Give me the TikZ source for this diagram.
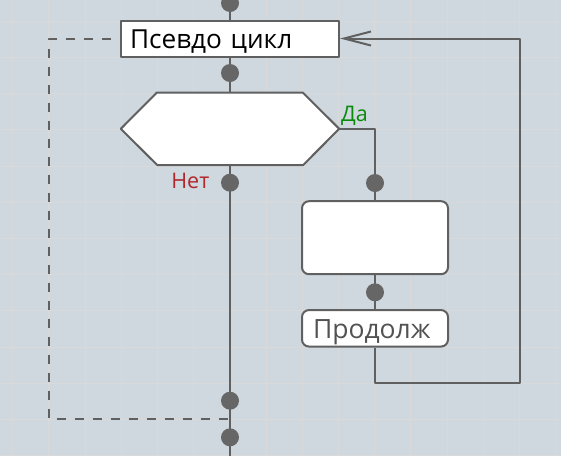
\documentclass[tikz,border=0pt]{standalone}
\usepackage{fontspec}
\setmainfont{Open Sans}
\usetikzlibrary{arrows.meta}
\definecolor{bgc}{HTML}{CFD8DE}
\definecolor{gridc}{HTML}{D9D9D9}
\definecolor{linec}{HTML}{606060}
\definecolor{dotc}{HTML}{666666}
\definecolor{yesc}{HTML}{0A8A0A}
\definecolor{noc}{HTML}{B0282D}
\begin{document}
\begin{tikzpicture}[x=1pt,y=-1pt,line join=round,
	flow/.style={draw=linec,line width=2pt},
	blk/.style={draw=linec,line width=2pt,fill=white,inner sep=0pt},
	dot/.style={circle,fill=dotc,minimum size=18pt,inner sep=0pt}]
	\useasboundingbox (0,0) rectangle (561,456);
	\fill[bgc] (0,0) rectangle (561,456);
	\foreach \i in {0,...,15}{
		\draw[gridc,line width=1pt] (12.7+36.2*\i,0) -- (12.7+36.2*\i,456);
		\draw[gridc,line width=1pt] (0,21.2+36.2*\i) -- (561,21.2+36.2*\i);}
	% blocks
	\node[blk,minimum width=218pt,minimum height=36pt,text width=200pt,align=left,inner xsep=9pt,text height=20pt,text depth=0pt,font=\fontsize{26.2}{28}\selectfont] (loop) at (230,38.5) {Псевдо цикл};
	\node[minimum width=218pt,minimum height=72.4pt,inner sep=0pt] (cond) at (230,128.8) {};
	\draw[blk] (cond.west) -- ++(36,-36.2) -- ++(146,0) -- (cond.east) -- ++(-36,36.2) -- ++(-146,0) -- cycle;
	\node[blk,rounded corners=7pt,minimum width=146pt,minimum height=73pt] (body) at (375,237.7) {};
	\node[blk,rounded corners=7pt,minimum width=146pt,minimum height=36.5pt,text width=124pt,align=left,inner xsep=11pt,text height=20.6pt,text depth=0pt,text=linec!85!black,font=\fontsize{26.5}{28}\selectfont] (cont) at (375,328.3) {Продолж};
	\path (230,0) coordinate (top) (230,456) coordinate (bot)
		(230,419) coordinate (jn) (49,419) coordinate (dl)
		(520,382.5) coordinate (rr);
	% connectors
	\draw[flow] (top) -- (loop.north) (loop.south) -- (cond.north) (cond.south) -- (bot);
	\draw[flow] (cond.east) -| (body.north) (body.south) -- (cont.north);
	\draw[flow,-{Straight Barb[length=27pt,width=14pt,line width=2pt]}] (cont.south) |- (rr) |- (loop.east);
	\draw[linec,line width=2pt,dash pattern=on 9pt off 9pt,dash phase=9pt] (loop.west) -| (dl) -- (jn);
	% dots
	\foreach \n/\x/\y in {d1/230/3,d2/230/73,d3/230/182.7,d4/375/183,d5/375/292.3,d6/230/400.7,d7/230/437.3}{
		\node[dot] (\n) at (\x,\y) {};}
	\node[anchor=east,text=noc,inner sep=0pt,font=\fontsize{21.5}{23}\selectfont] (no) at (209.5,181) {Нет};
	\node[anchor=base west,text=yesc,inner sep=0pt,font=\fontsize{21.5}{23}\selectfont] (yes) at (341,121) {Да};
\end{tikzpicture}
\end{document}
